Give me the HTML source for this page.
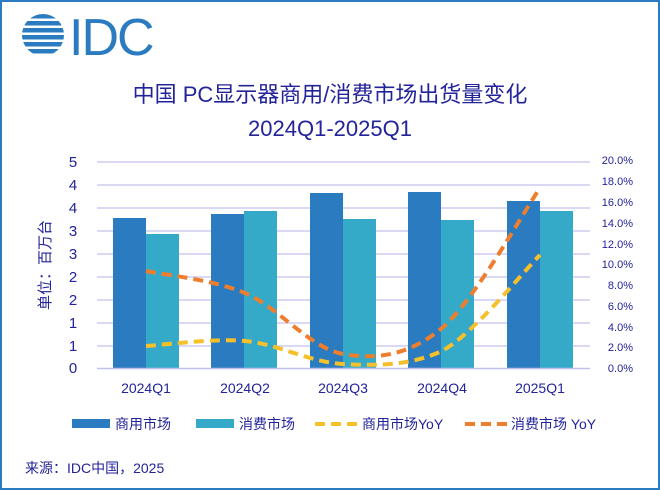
<!DOCTYPE html>
<html><head><meta charset="utf-8"><style>
html,body{margin:0;padding:0;background:#fff}
svg{display:block}
text{font-family:"Liberation Sans","Noto Sans CJK SC",sans-serif;fill:#23239a}
</style></head><body>
<svg width="660" height="490" viewBox="0 0 660 490" xmlns="http://www.w3.org/2000/svg">
<defs><clipPath id="lc"><circle cx="43" cy="35" r="21"/></clipPath></defs>
<rect x="1" y="1" width="658" height="488" fill="#fff" stroke="#2a7bbf" stroke-width="2"/>
<!-- logo -->
<g clip-path="url(#lc)" fill="#2a7bbf">
<rect x="20" y="14" width="46" height="4.5"/>
<rect x="20" y="21" width="46" height="4.5"/>
<rect x="20" y="28" width="46" height="4.5"/>
<rect x="20" y="35" width="46" height="4.5"/>
<rect x="20" y="42" width="46" height="4.5"/>
<rect x="20" y="49" width="46" height="4.5"/>
</g>
<rect x="36" y="24" width="14" height="22" fill="#fff" opacity="0"/>
<text x="69" y="55" font-size="52" style="fill:#2a7bbf;letter-spacing:-2px">IDC</text>
<!-- title -->
<text x="330" y="102" font-size="22" text-anchor="middle">中国 PC显示器商用/消费市场出货量变化</text>
<text x="330" y="136" font-size="22" text-anchor="middle">2024Q1-2025Q1</text>
<!-- grid -->
<g stroke="#c2c2ee" stroke-width="1.3">
<line x1="97" y1="162" x2="590" y2="162"/><line x1="97" y1="185" x2="590" y2="185"/>
<line x1="97" y1="208" x2="590" y2="208"/><line x1="97" y1="231" x2="590" y2="231"/>
<line x1="97" y1="254" x2="590" y2="254"/><line x1="97" y1="277" x2="590" y2="277"/>
<line x1="97" y1="300" x2="590" y2="300"/><line x1="97" y1="323" x2="590" y2="323"/>
<line x1="97" y1="346" x2="590" y2="346"/>
</g>
<!-- left labels -->
<g font-size="15" text-anchor="middle">
<text x="73" y="167">5</text><text x="73" y="190">4</text><text x="73" y="213">4</text>
<text x="73" y="236">3</text><text x="73" y="259">3</text><text x="73" y="282">2</text>
<text x="73" y="305">2</text><text x="73" y="328">1</text><text x="73" y="351">1</text>
<text x="73" y="373">0</text>
</g>
<text transform="translate(50,265) rotate(-90)" font-size="15" text-anchor="middle">单位：百万台</text>
<!-- right labels -->
<g font-size="11" text-anchor="end">
<text x="633" y="164">20.0%</text><text x="633" y="185">18.0%</text><text x="633" y="206">16.0%</text>
<text x="633" y="227">14.0%</text><text x="633" y="248">12.0%</text><text x="633" y="268">10.0%</text>
<text x="633" y="289">8.0%</text><text x="633" y="310">6.0%</text><text x="633" y="331">4.0%</text>
<text x="633" y="351">2.0%</text><text x="633" y="372">0.0%</text>
</g>
<!-- bars -->
<g fill="#2a7bbf">
<rect x="113" y="218" width="33" height="150"/>
<rect x="211" y="214" width="33" height="154"/>
<rect x="310" y="193" width="33" height="175"/>
<rect x="408" y="192" width="33" height="176"/>
<rect x="507" y="201" width="33" height="167"/>
</g>
<g fill="#35aac8">
<rect x="146" y="234" width="33" height="134"/>
<rect x="244" y="211" width="33" height="157"/>
<rect x="343" y="219" width="33" height="149"/>
<rect x="441" y="220" width="33" height="148"/>
<rect x="540" y="211" width="33" height="157"/>
</g>
<line x1="97" y1="368.5" x2="590" y2="368.5" stroke="#c2c2ee" stroke-width="1.5"/>
<!-- lines -->
<path d="M146,346 C162.5,345.2 212.2,338 245,341 C277.8,344 310.2,362.3 343,364 C375.8,365.7 409.2,366 442,351 C474.8,332.8 523.7,271 540,255" fill="none" stroke="#f5c02a" stroke-width="4" stroke-dasharray="10,6"/>
<path d="M146,271 C162.5,274.7 212.2,279.2 245,293 C277.8,306.8 310.2,348.2 343,354 C375.8,359.8 409.2,355.7 442,328 C474.8,300.3 523.7,211.3 540,188" fill="none" stroke="#ef7d2e" stroke-width="4" stroke-dasharray="10,6"/>
<!-- x labels -->
<g font-size="14" text-anchor="middle">
<text x="146" y="393">2024Q1</text><text x="245" y="393">2024Q2</text><text x="343" y="393">2024Q3</text>
<text x="442" y="393">2024Q4</text><text x="540" y="393">2025Q1</text>
</g>
<!-- legend -->
<rect x="72" y="419" width="38" height="9" fill="#2a7bbf"/>
<text x="115" y="429" font-size="14">商用市场</text>
<rect x="196" y="419" width="38" height="9" fill="#35aac8"/>
<text x="239" y="429" font-size="14">消费市场</text>
<line x1="315" y1="424" x2="357" y2="424" stroke="#f5c02a" stroke-width="4" stroke-dasharray="10,6"/>
<text x="362" y="429" font-size="14">商用市场YoY</text>
<line x1="465" y1="424" x2="507" y2="424" stroke="#ef7d2e" stroke-width="4" stroke-dasharray="10,6"/>
<text x="511" y="429" font-size="14">消费市场 YoY</text>
<text x="25" y="473" font-size="14">来源：IDC中国，2025</text>
</svg>
</body></html>
